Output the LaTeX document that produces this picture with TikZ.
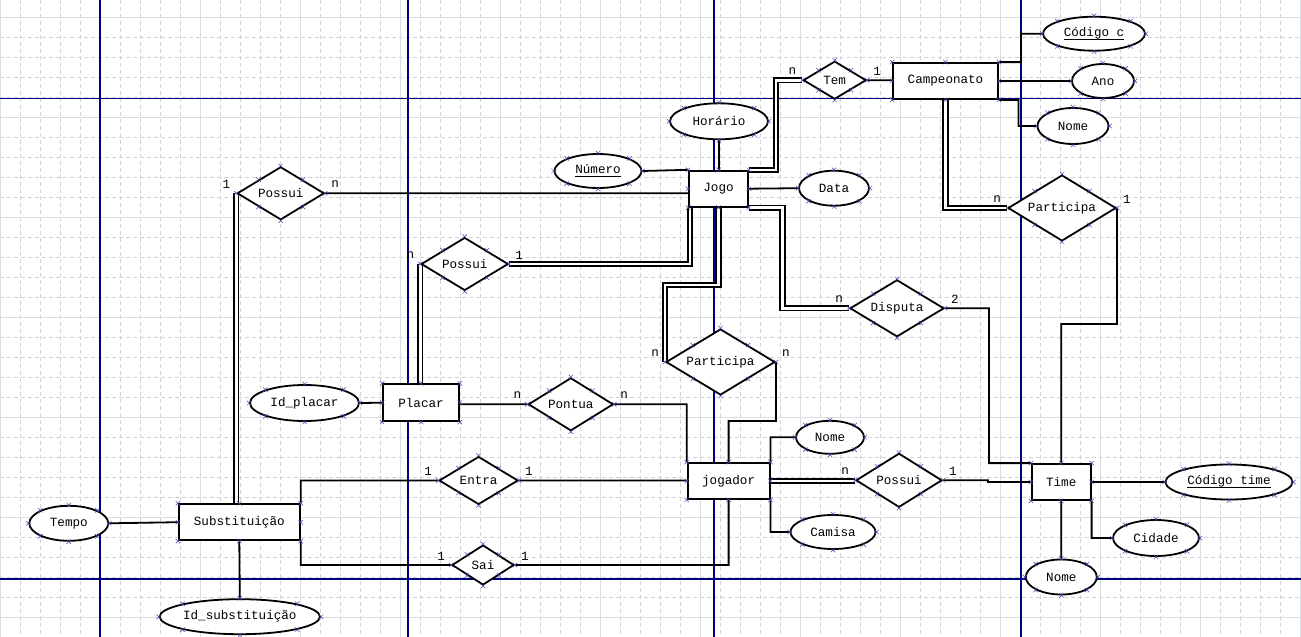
\documentclass[tikz,border=0pt]{standalone}
\usepackage{fontspec}
\newfontfamily\erfont{Liberation Mono}
\usepackage{tikz}
\usetikzlibrary{shapes.geometric}
\usetikzlibrary{backgrounds}
\definecolor{pagenavy}{RGB}{0,0,128}
\definecolor{gridgray}{RGB}{208,211,214}
\definecolor{majorgray}{RGB}{218,222,224}
\definecolor{crossblue}{RGB}{70,70,170}
\newcommand{\chave}[1]{\setbox0=\hbox{#1}\rlap{\rule[-3.6pt]{\wd0}{1.3pt}}\box0}
\tikzset{erfont/.style={font=\erfont\fontsize{12.6pt}{14pt}\selectfont,text=black}}
\tikzset{entity/.style={rectangle,draw=black,fill=white,line width=1.8pt,inner sep=0pt,erfont}}
\tikzset{relation/.style={diamond,aspect=1.6,draw=black,fill=white,line width=1.8pt,inner sep=0pt,erfont}}
\tikzset{attribute/.style={ellipse,draw=black,fill=white,line width=1.8pt,inner sep=0pt,erfont}}
\tikzset{link/.style={draw=black,line width=1.8pt}}
\tikzset{dlink/.style={draw=black,line width=1.8pt,double=white,double distance=2.6pt}}
\tikzset{card/.style={erfont,inner sep=0pt}}
\tikzset{cardw/.style={card,shift={(-10,-9)}}}
\tikzset{carde/.style={card,shift={(10,-9)}}}
\tikzset{minorgrid/.style={gridgray,line width=0.5pt,dash pattern=on 4pt off 3pt}}
\tikzset{majorgrid/.style={majorgray,line width=0.9pt}}
\tikzset{pageline/.style={pagenavy,line width=1.1pt}}
\tikzset{xcross/.style={crossblue,line width=0.5pt}}

\begin{document}
\begin{tikzpicture}[x=1pt,y=-1pt]
  \useasboundingbox (0,0) rectangle (1301,637);

  % entidades
  \node [entity, minimum width=105pt, minimum height=36pt] (camp) at (945.5,81) {Campeonato};
  \node [entity, minimum width=59pt, minimum height=36pt] (jogo) at (718.5,188.7) {Jogo};
  \node [entity, minimum width=76pt, minimum height=37pt] (placar) at (421,402.7) {Placar};
  \node [entity, minimum width=82pt, minimum height=36pt] (jogador) at (728.6,481) {jogador};
  \node [entity, minimum width=59pt, minimum height=36pt] (time) at (1061.2,482) {Time};
  \node [entity, minimum width=121pt, minimum height=36pt] (subst) at (239.3,522.2) {Substituição};

  % relacionamentos
  \node [relation, minimum width=63pt, minimum height=38pt] (tem) at (834.7,80.2) {Tem};
  \node [relation, minimum width=108pt, minimum height=66pt] (partcamp) at (1062,208) {Participa};
  \node [relation, minimum width=87pt, minimum height=53pt] (possuisub) at (280.7,193.3) {Possui};
  \node [relation, minimum width=87pt, minimum height=53pt] (possuiplacar) at (464.7,264) {Possui};
  \node [relation, minimum width=109pt, minimum height=66pt] (partjog) at (720.5,362) {Participa};
  \node [relation, minimum width=94pt, minimum height=57pt] (disputa) at (897,308.3) {Disputa};
  \node [relation, minimum width=85pt, minimum height=53pt] (pontua) at (570.8,404.3) {Pontua};
  \node [relation, minimum width=86pt, minimum height=54pt] (possuitime) at (899,480.3) {Possui};
  \node [relation, minimum width=79pt, minimum height=48pt] (entra) at (478.6,480.5) {Entra};
  \node [relation, minimum width=62pt, minimum height=40pt] (sai) at (483,565) {Sai};

  % atributos
  \node [attribute, minimum width=102pt, minimum height=34pt] (codc) at (1094,33.7) {\chave{Código c}};
  \node [attribute, minimum width=62pt, minimum height=34pt] (ano) at (1103,81) {Ano};
  \node [attribute, minimum width=71pt, minimum height=36pt] (nomecamp) at (1073,126) {Nome};
  \node [attribute, minimum width=98pt, minimum height=36pt] (horario) at (719,121.3) {Horário};
  \node [attribute, minimum width=87pt, minimum height=34pt] (numero) at (598,171) {\chave{Número}};
  \node [attribute, minimum width=70pt, minimum height=35pt] (data) at (834,188.2) {Data};
  \node [attribute, minimum width=109pt, minimum height=36pt] (idplacar) at (304.5,403) {Id\_placar};
  \node [attribute, minimum width=68pt, minimum height=33pt] (nomejog) at (830,437.3) {Nome};
  \node [attribute, minimum width=85pt, minimum height=34pt] (camisa) at (833,532) {Camisa};
  \node [attribute, minimum width=127pt, minimum height=35pt] (codtime) at (1229,482) {\chave{Código time}};
  \node [attribute, minimum width=86pt, minimum height=36pt] (cidade) at (1156,538) {Cidade};
  \node [attribute, minimum width=71pt, minimum height=35pt] (nometime) at (1061.3,577) {Nome};
  \node [attribute, minimum width=79pt, minimum height=35pt] (tempo) at (68.8,523.3) {Tempo};
  \node [attribute, minimum width=155pt, minimum height=35pt] (idsub) at (239.8,616.7) {Id\_substituição};

  % cardinalidades
  \node [cardw] (c-tem-w) at (tem.west) {n};
  \node [carde] (c-tem-e) at (tem.east) {1};
  \node [cardw] (c-partcamp-w) at (partcamp.west) {n};
  \node [carde] (c-partcamp-e) at (partcamp.east) {1};
  \node [cardw] (c-possuisub-w) at (possuisub.west) {1};
  \node [carde] (c-possuisub-e) at (possuisub.east) {n};
  \node [cardw] (c-possuiplacar-w) at (possuiplacar.west) {n};
  \node [carde] (c-possuiplacar-e) at (possuiplacar.east) {1};
  \node [cardw] (c-partjog-w) at (partjog.west) {n};
  \node [carde] (c-partjog-e) at (partjog.east) {n};
  \node [cardw] (c-disputa-w) at (disputa.west) {n};
  \node [carde] (c-disputa-e) at (disputa.east) {2};
  \node [cardw] (c-pontua-w) at (pontua.west) {n};
  \node [carde] (c-pontua-e) at (pontua.east) {n};
  \node [cardw] (c-possuitime-w) at (possuitime.west) {n};
  \node [carde] (c-possuitime-e) at (possuitime.east) {1};
  \node [cardw] (c-entra-w) at (entra.west) {1};
  \node [carde] (c-entra-e) at (entra.east) {1};
  \node [cardw] (c-sai-w) at (sai.west) {1};
  \node [carde] (c-sai-e) at (sai.east) {1};

  \begin{pgfonlayer}{background}
    % grade da folha
    \fill [white] (0,0) rectangle (1301,637);
    \foreach \x in {0,20,...,1300} \draw [minorgrid] (\x+0.7,0) -- (\x+0.7,637);
    \foreach \y in {-20,0,...,620} \draw [minorgrid] (0,\y+17.3) -- (1301,\y+17.3);
    \foreach \x in {0,100,...,1300} \draw [majorgrid] (\x+0.7,0) -- (\x+0.7,637);
    \foreach \y in {0,100,...,600} \draw [majorgrid] (0,\y+17.3) -- (1301,\y+17.3);
    \foreach \x in {100,408,714,1021} \draw [pageline] (\x,0) -- (\x,637);
    \foreach \y in {98.3,579} \draw [pageline] (0,\y) -- (1301,\y);

    \path [link]
      (tem.east) -- (tem.east -| camp.west)
      (camp.north east) -- ++(22,0) |- (codc.west)
      (camp.east) -- (ano.west)
      (camp.south east) -- ++(19.5,0) |- (nomecamp.west)
      (partcamp.east) -- ++(0,116) -| (time.north)
      (disputa.east) -- ++(44,0) |- (time.north west)
      (possuitime.east) -- ++(45,0) |- (time.west)
      (time.east) -- (codtime.west)
      (time.south east) |- (cidade.west)
      (time.south) -- (nometime.north)
      (jogador.north east) |- (nomejog.west)
      (jogador.south east) |- (camisa.west)
      (partjog.east) -- ++(0,59) -| (jogador.north)
      (pontua.east) -| (jogador.north west)
      (pontua.west -| placar.east) -- (pontua.west)
      (idplacar.east) -- (placar.west)
      (entra.east) -- (entra.east -| jogador.west)
      (subst.north east) |- (entra.west)
      (subst.south east) |- (sai.west)
      (sai.east) -| (jogador.south)
      (tempo.east) -- (subst.west)
      (subst.south) -- (idsub.north)
      (possuisub.east) -- (possuisub.east -| jogo.west)
      (numero.east) -- (jogo.north west)
      (horario.south) -- (horario.south |- jogo.north)
      (jogo.east) -- (data.west);

    \draw [dlink] (jogo.north east) -- ++(27,0) |- (tem.west);
    \draw [dlink] (camp.south) |- (partcamp.west);
    \draw [dlink] (jogo.south east) -- ++(33.5,0) |- (disputa.west);
    \draw [dlink] ([xshift=2pt]jogo.south west) |- (possuiplacar.east);
    \draw [dlink] (possuiplacar.west) -- (possuiplacar.west |- placar.north);
    \draw [dlink] (jogo.south) -- ++(0,77.5) -| (partjog.west);
    \draw [dlink] (possuisub.west) -- (possuisub.west |- subst.north);
    \draw [dlink] (jogador.east) -- (jogador.east -| possuitime.west);
  \end{pgfonlayer}

  % pontos de conexao
  \foreach \n in {camp,jogo,placar,jogador,time,subst,tem,partcamp,possuisub,possuiplacar,partjog,disputa,pontua,possuitime,entra,sai,codc,ano,nomecamp,horario,numero,data,idplacar,nomejog,camisa,codtime,cidade,nometime,tempo,idsub}
    \foreach \a in {north,south,east,west,north east,north west,south east,south west}
      \draw [xcross] (\n.\a) +(-2.2,-2.2) -- +(2.2,2.2) +(-2.2,2.2) -- +(2.2,-2.2);
\end{tikzpicture}
\end{document}
